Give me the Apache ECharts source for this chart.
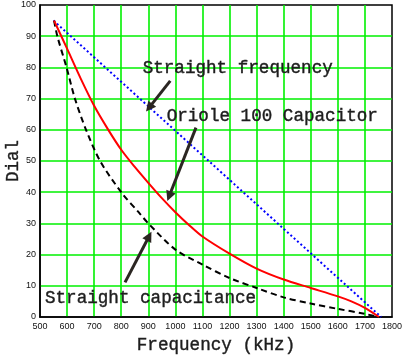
<!DOCTYPE html>
<html>
<head>
<meta charset="utf-8">
<script src="https://cdn.jsdelivr.net/npm/echarts@6/dist/echarts.min.js"></script>
<style>html,body{margin:0;padding:0;background:#fff}#c{width:406px;height:360px}</style>
</head>
<body>
<div id="c"></div>
<script>
// ---- data ----
const xTicks = [500,600,700,800,900,1000,1100,1200,1300,1400,1500,1600,1700,1800];
const yTicks = [0,10,20,30,40,50,60,70,80,90,100];

const straightFreqKHz  = [550, 1760];
const straightFreqDial = [95, 0];

const orioleKHz  = [552, 600, 650, 700, 750, 800, 850, 900, 950, 1000, 1050, 1100, 1200, 1300, 1400, 1500, 1600, 1650, 1700, 1752];
const orioleDial = [95, 86, 76.5, 67.7, 60.3, 53.6, 48.1, 43, 38.1, 33.6, 29.5, 25.8, 20.3, 15.5, 12.0, 9.3, 6.6, 5.0, 2.9, 0];

const straightCapKHz  = [552, 564, 598, 629, 670, 722, 800, 870, 900, 1000, 1100, 1200, 1300, 1400, 1500, 1600, 1700, 1750];
const straightCapDial = [95, 90, 80, 70, 60, 50, 40, 33, 30, 21.6, 16.8, 12.5, 9.3, 6.3, 4.3, 2.6, 1.0, 0];

// annotation arrows: [fromKHz, fromDial, toKHz, toDial]
const arrowFreq   = [981, 75.7, 903, 67.1];
const arrowOriole = [1076, 60.7, 977, 38.7];
const arrowCap    = [814, 11.1, 903, 25.9];

const labelTexts = ['Straight frequency', 'Oriole 100 Capacitor', 'Straight capacitance'];
const xTitle = 'Frequency (kHz)';
const yTitle = 'Dial';

const zip = (a, b) => a.map((v, i) => [v, b[i]]);
const arrowLine = a => [{coord: [a[0], a[1]], symbol: 'none'}, {coord: [a[2], a[3]], symbol: 'triangle'}];

const mono = 'Liberation Mono';
const ink = '#1e1e1e';
const titleStyle = {fontFamily: mono, fontSize: 17.6, color: ink, textBorderColor: ink, textBorderWidth: 0.4};
const noteStyle = t => ({text: t, font: '17.6px "Liberation Mono"', fill: ink, stroke: ink, lineWidth: 0.4, verticalAlign: 'middle'});

const chart = echarts.init(document.getElementById('c'), null, {renderer: 'canvas'});
chart.setOption({
  animation: false,
  backgroundColor: '#ffffff',
  grid: {left: 40, right: 14, top: 5, bottom: 43, show: true, borderColor: '#000', borderWidth: 1.5,
         containLabel: false, outerBoundsMode: 'none'},
  xAxis: {
    type: 'value', min: xTicks[0], max: xTicks[xTicks.length - 1], interval: 100,
    name: xTitle, nameLocation: 'middle', nameGap: 19, nameMoveOverlap: false,
    nameTextStyle: titleStyle,
    axisLine: {show: true, lineStyle: {color: '#000', width: 1.5}},
    axisTick: {show: false},
    axisLabel: {fontFamily: 'Liberation Sans', fontSize: 9, color: '#111', margin: 5, formatter: v => String(v)},
    splitLine: {show: true, showMinLine: false, showMaxLine: false, lineStyle: {color: '#00f000', width: 1.6}}
  },
  yAxis: {
    type: 'value', min: yTicks[0], max: yTicks[yTicks.length - 1], interval: 10,
    name: yTitle, nameLocation: 'middle', nameGap: 18, nameRotate: 90, nameMoveOverlap: false,
    nameTextStyle: titleStyle,
    axisLine: {show: true, lineStyle: {color: '#000', width: 1.5}},
    axisTick: {show: false},
    axisLabel: {fontFamily: 'Liberation Sans', fontSize: 9, color: '#111', margin: 4, formatter: v => String(v)},
    splitLine: {show: true, showMinLine: false, showMaxLine: false, lineStyle: {color: '#00f000', width: 1.6}}
  },
  series: [
    {type: 'line', name: 'Straight frequency', data: zip(straightFreqKHz, straightFreqDial), symbol: 'none',
     lineStyle: {color: '#0000ff', width: 2, type: [2, 2.5]}, z: 3},
    {type: 'line', name: 'Straight capacitance', data: zip(straightCapKHz, straightCapDial), symbol: 'none',
     smooth: 0.3,
     lineStyle: {color: '#000', width: 2, type: [6, 4]}, z: 3},
    {type: 'line', name: 'Oriole 100', data: zip(orioleKHz, orioleDial), symbol: 'none',
     smooth: 0.3,
     lineStyle: {color: '#ff0000', width: 2}, z: 4},
    {type: 'line', data: [], z: 5,
     markLine: {silent: true, symbolSize: 10, label: {show: false},
       lineStyle: {color: '#2b2622', width: 3, type: 'solid'},
       data: [arrowLine(arrowFreq), arrowLine(arrowOriole), arrowLine(arrowCap)]}}
  ],
  graphic: [
    {type: 'text', x: 142.7, y: 68.3, z: 10, style: noteStyle(labelTexts[0])},
    {type: 'text', x: 166.7, y: 116.7, z: 10, style: noteStyle(labelTexts[1])},
    {type: 'text', x: 45, y: 298.3, z: 10, style: noteStyle(labelTexts[2])}
  ]
});
</script>
</body>
</html>
